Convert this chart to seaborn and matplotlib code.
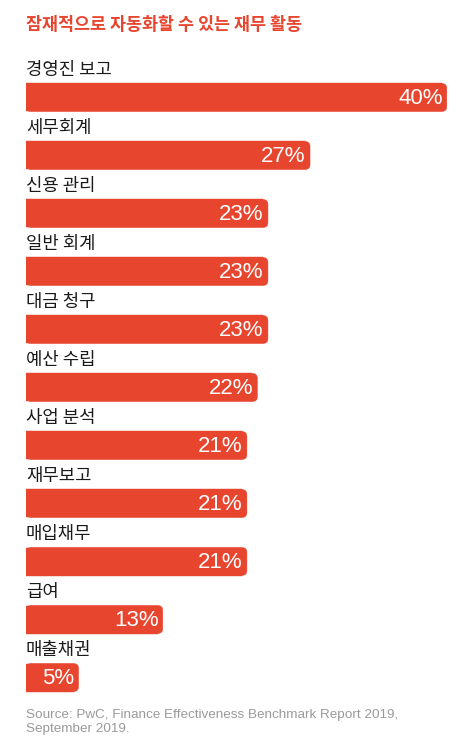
import matplotlib
matplotlib.use("Agg")
import matplotlib.pyplot as plt
import seaborn as sns
import pandas as pd
from matplotlib.patches import FancyBboxPatch, Rectangle

categories = ["경영진 보고", "세무회계", "신용 관리", "일반 회계", "대금 청구", "예산 수립",
              "사업 분석", "재무보고", "매입채무", "급여", "매출채권"]
values = [40, 27, 23, 23, 23, 22, 21, 21, 21, 13, 5]
title = "잠재적으로 자동화할 수 있는 재무 활동"
source = "Source: PwC, Finance Effectiveness Benchmark Report 2019,\nSeptember 2019."

RED = "#E8452F"
sns.set_theme(style="white")
plt.rcParams['font.family'] = ['Noto Sans CJK KR', 'DejaVu Sans']

W, H = 474, 754
fig = plt.figure(figsize=(W / 100, H / 100), dpi=100)
fig.patch.set_facecolor("white")

top_px, bot_px = 55, 700
left_px = 26
ax = fig.add_axes([left_px / W, 1 - bot_px / H, (W - left_px) / W, (bot_px - top_px) / H])

df = pd.DataFrame({"cat": categories, "val": values})
sns.barplot(data=df, x="val", y="cat", orient="h", color=RED, width=28 / 58,
            saturation=1, ax=ax)

ax.set_xlim(0, (W - left_px) / 10.52)
y0 = (top_px - 97.5) / 58
y1 = (bot_px - 97.5) / 58
ax.set_ylim(y1, y0)
ax.axis("off")

rx = 5 / 10.52
ry = 5 / 58
for p in list(ax.patches):
    x, y = p.get_x(), p.get_y()
    w, h = p.get_width(), p.get_height()
    p.remove()
    fb = FancyBboxPatch((x, y), w, h, boxstyle=f"round,pad=0,rounding_size={rx}",
                        mutation_aspect=ry / rx, facecolor=RED, edgecolor=RED,
                        linewidth=0.3, zorder=2)
    ax.add_patch(fb)
    ax.add_patch(Rectangle((x, y), max(w - rx, 0), h, facecolor=RED, edgecolor=RED,
                           linewidth=0.3, zorder=2))

for i, (c, v) in enumerate(zip(categories, values)):
    ax.text(0, i - 0.47, c, ha="left", va="center", fontsize=12.8, color="#1a1a1a")
    ax.text(v - 0.4, i + 0.02, f"{v}%", ha="right", va="center", fontsize=16,
            color="white", family=["Liberation Sans", "DejaVu Sans"], zorder=5)

fig.text(left_px / W, 1 - 25 / H, title, ha="left", va="center", fontsize=12.5,
         fontweight="bold", color=RED)
fig.text(left_px / W, 1 - 722 / H, source, ha="left", va="center", fontsize=9.7,
         color="#9a9a9a", family=["Liberation Sans", "DejaVu Sans"], linespacing=1.25)

fig.savefig("out.png", dpi=100, facecolor="white")
